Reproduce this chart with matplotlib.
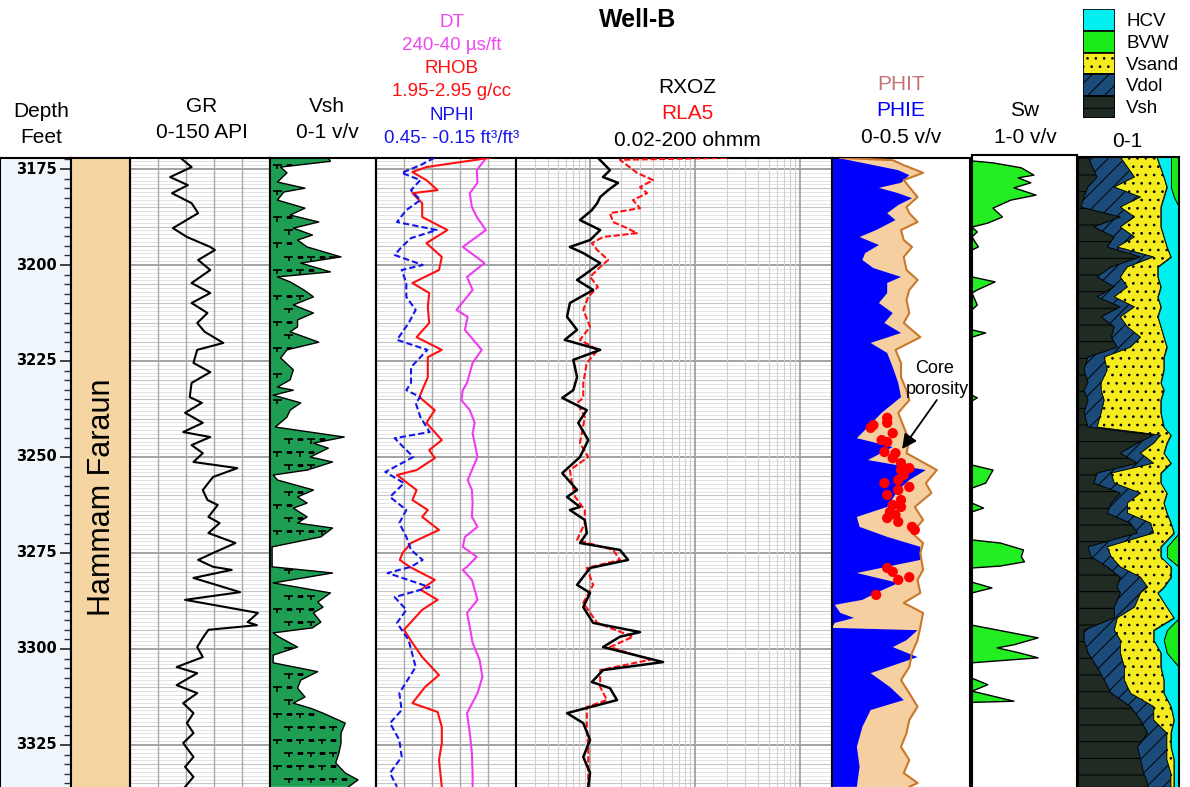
import numpy as np
import matplotlib
matplotlib.use("Agg")
import matplotlib.pyplot as plt
from matplotlib.path import Path
from matplotlib.patches import Rectangle

plt.rcParams['font.family'] = ['Liberation Sans', 'DejaVu Sans']
plt.rcParams['hatch.color'] = 'black'
plt.rcParams['hatch.linewidth'] = 0.7

# ------------------------------------------------------------------ data
depth_labels = [3175, 3200, 3225, 3250, 3275, 3300, 3325]
formation_name = "Hammam Faraun"

gr_depth = [3172.1, 3174.5, 3177.1, 3179.2, 3181.3, 3183.9, 3186.5, 3190.4, 3192.7, 3195.3,
            3196.1, 3198.7, 3201.3, 3204.7, 3207.3, 3209.9, 3212.5, 3215.1, 3217.4, 3220.3,
            3222.1, 3225.5, 3227.9, 3230.7, 3234.4, 3235.9, 3238.5, 3241.1, 3243.5, 3244.8,
            3246.9, 3249.0, 3251.3, 3252.9, 3255.2, 3258.6, 3261.2, 3262.5, 3265.6, 3267.2,
            3269.8, 3272.4, 3275.0, 3276.8, 3278.6, 3279.4, 3281.5, 3285.2, 3287.2, 3288.5,
            3290.6, 3293.0, 3293.8, 3295.0, 3297.1, 3299.5, 3302.1, 3304.7, 3306.3, 3309.4,
            3311.5, 3314.1, 3316.7, 3319.3, 3321.9, 3324.5, 3328.1, 3330.7, 3333.3, 3335.9]
gr_api = [54, 66, 43, 62, 45, 66, 73, 46, 61, 86,
          91, 73, 86, 66, 86, 66, 83, 72, 80, 100,
          72, 68, 86, 66, 64, 77, 59, 78, 57, 86,
          66, 78, 68, 115, 89, 78, 83, 94, 84, 96,
          84, 113, 89, 73, 89, 109, 68, 118, 59, 89,
          137, 126, 136, 84, 78, 72, 78, 50, 72, 50,
          72, 57, 68, 61, 68, 57, 68, 59, 68, 59]

vsh_depth = [3172.1, 3173.0, 3174.5, 3176.0, 3178.4, 3180.0, 3181.0, 3183.1, 3185.2, 3187.0,
             3188.8, 3190.4, 3192.2, 3193.5, 3195.3, 3197.9, 3199.5, 3201.8, 3203.1, 3204.4,
             3206.5, 3208.3, 3210.4, 3212.5, 3214.3, 3216.1, 3217.4, 3220.1, 3222.1, 3224.2,
             3227.3, 3229.9, 3231.8, 3232.6, 3233.9, 3235.9, 3237.8, 3239.6, 3242.2, 3244.8,
             3246.4, 3247.7, 3250.0, 3251.3, 3253.4, 3254.7, 3256.0, 3258.6, 3260.4, 3262.0,
             3263.3, 3265.6, 3267.2, 3268.5, 3270.8, 3273.4, 3278.6, 3280.2, 3282.8, 3285.4,
             3287.8, 3289.1, 3290.6, 3293.0, 3294.5, 3295.8, 3296.8, 3299.5, 3301.6, 3303.6,
             3305.9, 3308.1, 3310.2, 3312.5, 3314.1, 3315.4, 3316.7, 3319.3, 3321.9, 3324.5,
             3327.1, 3329.7, 3332.3, 3334.1, 3335.9]
vsh_frac = [0.55, 0.57, 0.10, 0.16, 0.07, 0.33, 0.13, 0.07, 0.33, 0.19,
            0.46, 0.22, 0.40, 0.26, 0.35, 0.67, 0.29, 0.57, 0.07, 0.19,
            0.32, 0.41, 0.22, 0.41, 0.26, 0.26, 0.19, 0.46, 0.16, 0.10,
            0.22, 0.19, 0.07, 0.22, 0.03, 0.29, 0.19, 0.16, 0.05, 0.70,
            0.41, 0.55, 0.38, 0.59, 0.35, 0.03, 0.07, 0.41, 0.26, 0.35,
            0.22, 0.35, 0.26, 0.59, 0.48, 0.02, 0.02, 0.59, 0.03, 0.57,
            0.45, 0.50, 0.41, 0.48, 0.40, 0.03, 0.08, 0.26, 0.03, 0.03,
            0.45, 0.29, 0.26, 0.33, 0.22, 0.38, 0.50, 0.71, 0.67, 0.67,
            0.65, 0.62, 0.71, 0.83, 0.74]

dt_depth = [3172.1, 3172.7, 3175.3, 3178.6, 3181.3, 3184.9, 3187.5, 3190.9, 3195.3, 3199.5,
            3203.1, 3206.5, 3211.7, 3213.5, 3216.9, 3222.1, 3225.5, 3230.7, 3232.6, 3235.2,
            3237.8, 3241.1, 3243.8, 3246.4, 3250.0, 3253.4, 3256.0, 3258.6, 3262.0, 3265.6,
            3268.2, 3270.8, 3273.4, 3276.0, 3278.6, 3279.4, 3282.0, 3287.2, 3290.6, 3294.3,
            3298.4, 3302.8, 3307.3, 3311.5, 3316.7, 3321.9, 3327.1, 3332.3, 3335.9]
dt_us = [82, 85, 96, 95, 106, 103, 96, 83, 116, 85,
         110, 102, 125, 109, 113, 89, 102, 110, 116, 118,
         106, 99, 102, 99, 95, 103, 109, 103, 102, 103,
         95, 113, 116, 96, 110, 116, 103, 95, 110, 106,
         102, 92, 88, 95, 110, 106, 103, 102, 102]

rhob_depth = [3172.1, 3174.5, 3175.8, 3177.9, 3180.5, 3181.3, 3183.9, 3187.5, 3190.9, 3194.3,
              3197.9, 3201.3, 3204.7, 3207.3, 3210.9, 3215.1, 3218.8, 3222.1, 3224.0, 3229.2,
              3232.6, 3234.4, 3237.8, 3241.1, 3245.6, 3248.2, 3250.3, 3253.4, 3254.7, 3258.6,
              3261.2, 3263.8, 3265.6, 3269.0, 3272.4, 3275.0, 3276.8, 3278.6, 3282.0, 3284.6,
              3287.2, 3289.8, 3295.0, 3298.4, 3302.1, 3306.8, 3309.9, 3314.1, 3316.4, 3320.3,
              3324.5, 3328.9, 3335.9]
rhob_gcc = [2.76, 2.31, 2.21, 2.31, 2.39, 2.21, 2.28, 2.28, 2.46, 2.31,
            2.42, 2.40, 2.21, 2.33, 2.32, 2.33, 2.24, 2.42, 2.32, 2.32,
            2.28, 2.26, 2.37, 2.31, 2.42, 2.33, 2.37, 2.24, 2.10, 2.24,
            2.21, 2.32, 2.28, 2.40, 2.20, 2.14, 2.12, 2.19, 2.37, 2.27,
            2.39, 2.28, 2.15, 2.21, 2.28, 2.40, 2.30, 2.21, 2.39, 2.42,
            2.42, 2.40, 2.42]

nphi_depth = [3172.1, 3174.0, 3176.0, 3177.9, 3180.5, 3183.1, 3185.7, 3188.8, 3190.9, 3193.0,
              3195.3, 3197.4, 3200.0, 3201.3, 3204.7, 3208.3, 3211.7, 3215.1, 3219.5, 3222.1,
              3226.6, 3230.7, 3232.6, 3234.4, 3235.9, 3239.6, 3243.5, 3245.1, 3248.2, 3250.0,
              3253.9, 3256.8, 3260.4, 3263.8, 3267.2, 3270.8, 3274.2, 3276.8, 3278.6, 3280.2,
              3283.9, 3286.5, 3289.8, 3293.2, 3297.7, 3304.7, 3311.5, 3315.9, 3319.3, 3323.7,
              3328.1, 3332.3, 3335.9]
nphi_v = [0.20, 0.26, 0.34, 0.26, 0.30, 0.26, 0.32, 0.36, 0.19, 0.30,
          0.34, 0.37, 0.25, 0.34, 0.32, 0.32, 0.28, 0.31, 0.36, 0.23,
          0.30, 0.30, 0.32, 0.26, 0.28, 0.26, 0.22, 0.37, 0.32, 0.29,
          0.41, 0.33, 0.39, 0.32, 0.35, 0.32, 0.30, 0.25, 0.30, 0.40,
          0.22, 0.37, 0.32, 0.36, 0.31, 0.28, 0.35, 0.34, 0.39, 0.35,
          0.34, 0.39, 0.36]

rxoz_depth = [3172.1, 3175.3, 3177.1, 3178.6, 3180.5, 3182.3, 3183.9, 3185.7, 3188.3, 3190.9,
              3193.5, 3195.3, 3196.9, 3199.5, 3202.1, 3203.9, 3206.5, 3209.9, 3213.5, 3216.9,
              3219.5, 3222.1, 3224.7, 3229.2, 3232.6, 3234.6, 3237.8, 3241.1, 3245.6, 3250.0,
              3254.2, 3258.6, 3260.4, 3263.0, 3263.8, 3266.4, 3269.8, 3272.4, 3274.2, 3276.8,
              3278.9, 3283.3, 3285.4, 3289.1, 3293.2, 3295.6, 3296.8, 3299.5, 3303.4, 3305.5,
              3308.6, 3310.2, 3313.3, 3316.7, 3319.3, 3323.7, 3328.1, 3332.3, 3335.9]
rxoz_ohmm = [1.20, 1.56, 1.34, 1.86, 1.50, 1.26, 1.18, 1.05, 0.81, 1.26,
             1.01, 0.65, 0.87, 1.26, 0.94, 0.76, 1.08, 0.65, 0.61, 0.76,
             0.58, 1.26, 0.70, 0.76, 0.70, 0.55, 0.94, 0.78, 0.97, 0.81,
             0.55, 0.76, 0.61, 0.81, 0.65, 0.90, 0.94, 0.81, 1.94, 2.32,
             1.01, 0.76, 1.01, 0.87, 1.08, 3.01, 1.94, 1.34, 4.98, 1.34,
             1.05, 1.56, 1.82, 0.61, 0.87, 1.01, 0.87, 1.01, 0.97]

rla5_depth = [3172.1, 3172.6, 3176.0, 3177.9, 3179.7, 3181.3, 3183.1, 3185.2, 3186.5, 3188.8,
              3190.4, 3191.7, 3192.7, 3194.3, 3196.1, 3198.7, 3200.5, 3203.1, 3205.7, 3208.3,
              3211.7, 3216.1, 3219.5, 3222.1, 3225.5, 3230.7, 3234.6, 3235.9, 3239.6, 3246.4,
              3250.0, 3253.4, 3256.8, 3260.4, 3263.8, 3267.2, 3271.6, 3274.2, 3276.8, 3278.9,
              3283.3, 3288.0, 3293.2, 3296.8, 3299.5, 3302.8, 3305.5, 3309.9, 3313.3, 3315.1,
              3320.3, 3325.5, 3330.7, 3335.9]
rla5_ohmm = [20.0, 1.94, 2.82, 4.00, 3.01, 3.51, 2.58, 3.01, 1.56, 1.67,
             2.27, 2.82, 1.34, 1.05, 1.18, 1.50, 1.26, 1.01, 1.20, 0.97,
             0.87, 1.01, 0.81, 1.20, 0.94, 0.87, 0.87, 0.76, 0.90, 0.81,
             0.97, 0.65, 0.68, 0.73, 0.90, 0.90, 0.76, 1.67, 1.94, 0.94,
             1.08, 0.87, 1.18, 2.58, 1.56, 3.75, 1.26, 1.26, 1.46, 0.94,
             0.94, 0.97, 0.97, 0.97]

phie_depth = [3172.1, 3173.4, 3175.3, 3176.6, 3178.6, 3179.9, 3181.3, 3182.6, 3184.4, 3186.5,
              3188.3, 3190.9, 3192.7, 3194.8, 3196.9, 3198.7, 3200.8, 3203.1, 3204.7, 3207.3,
              3209.9, 3212.5, 3215.1, 3217.7, 3220.3, 3222.9, 3226.6, 3230.7, 3234.4, 3238.5,
              3242.2, 3245.1, 3247.4, 3250.8, 3253.4, 3256.0, 3258.6, 3263.0, 3265.6, 3268.2,
              3270.8, 3273.4, 3276.8, 3280.2, 3282.8, 3285.4, 3287.2, 3288.5, 3290.6, 3291.9,
              3293.2, 3294.5, 3295.1, 3297.7, 3299.5, 3302.1, 3306.3, 3309.9, 3313.3, 3315.9,
              3320.3, 3325.5, 3330.7, 3335.9]
phie_v = [0.02, 0.11, 0.24, 0.28, 0.25, 0.17, 0.24, 0.29, 0.24, 0.20,
          0.23, 0.16, 0.10, 0.17, 0.12, 0.11, 0.15, 0.25, 0.20, 0.20,
          0.17, 0.22, 0.19, 0.25, 0.14, 0.20, 0.22, 0.24, 0.25, 0.18,
          0.13, 0.09, 0.22, 0.13, 0.34, 0.28, 0.24, 0.20, 0.09, 0.10,
          0.20, 0.32, 0.32, 0.09, 0.24, 0.16, 0.11, 0.01, 0.03, 0.08,
          0.01, 0.00, 0.31, 0.27, 0.22, 0.31, 0.14, 0.21, 0.26, 0.14,
          0.11, 0.09, 0.10, 0.09]

phit_depth = [3172.1, 3172.7, 3174.0, 3176.0, 3177.9, 3179.7, 3182.3, 3184.9, 3186.5, 3188.8,
              3190.9, 3193.5, 3195.3, 3197.9, 3201.3, 3203.9, 3206.5, 3209.1, 3212.5, 3215.1,
              3218.8, 3222.1, 3225.5, 3229.2, 3232.6, 3235.2, 3238.5, 3242.2, 3245.6, 3249.0,
              3253.4, 3256.8, 3259.4, 3263.0, 3266.4, 3269.8, 3272.4, 3275.0, 3279.4, 3282.0,
              3285.4, 3288.0, 3290.6, 3294.3, 3297.7, 3301.0, 3304.7, 3308.1, 3311.5, 3315.0,
              3318.5, 3321.9, 3325.5, 3328.9, 3332.3, 3334.9, 3335.9]
phit_v = [0.03, 0.22, 0.26, 0.33, 0.26, 0.28, 0.31, 0.27, 0.28, 0.31,
          0.25, 0.26, 0.29, 0.26, 0.27, 0.31, 0.28, 0.27, 0.28, 0.26,
          0.32, 0.23, 0.25, 0.25, 0.27, 0.28, 0.24, 0.26, 0.28, 0.27,
          0.38, 0.34, 0.36, 0.30, 0.33, 0.29, 0.33, 0.32, 0.33, 0.31,
          0.32, 0.26, 0.33, 0.32, 0.31, 0.29, 0.28, 0.25, 0.28, 0.31,
          0.28, 0.27, 0.25, 0.28, 0.26, 0.31, 0.28]

core_depth = [3239.8, 3241.1, 3242.4, 3241.7, 3243.8, 3245.6, 3246.1, 3248.7, 3249.0, 3250.3,
              3251.6, 3252.9, 3253.4, 3254.7, 3256.0, 3256.8, 3257.8, 3258.6, 3259.9, 3261.2,
              3262.5, 3263.0, 3264.3, 3265.1, 3265.9, 3266.9, 3268.2, 3269.0, 3278.9, 3279.9,
              3282.0, 3281.3, 3285.9]
core_phi = [0.20, 0.20, 0.14, 0.15, 0.22, 0.18, 0.20, 0.19, 0.23, 0.22,
            0.25, 0.28, 0.25, 0.26, 0.24, 0.19, 0.28, 0.24, 0.20, 0.25,
            0.22, 0.25, 0.21, 0.23, 0.20, 0.24, 0.29, 0.30, 0.20, 0.22,
            0.24, 0.28, 0.16]

sw_depth = [3171.4, 3172.9, 3173.4, 3174.7, 3176.6, 3177.3, 3178.6, 3179.9, 3181.8, 3183.1,
            3185.2, 3187.5, 3189.1, 3190.1, 3191.4, 3192.7, 3195.3, 3196.1, 3203.1, 3204.4,
            3206.5, 3207.3, 3210.4, 3211.7, 3216.9, 3217.7, 3218.8, 3233.9, 3234.6, 3235.4,
            3252.1, 3253.4, 3256.8, 3258.1, 3262.0, 3263.3, 3264.3, 3271.6, 3272.4, 3274.2,
            3276.0, 3277.3, 3278.4, 3278.9, 3282.6, 3284.1, 3285.4, 3293.8, 3295.1, 3297.1,
            3298.9, 3299.7, 3301.0, 3302.3, 3303.6, 3307.6, 3309.3, 3311.0, 3311.3, 3313.6,
            3313.9, 3335.9]
sw_v = [1.0, 1.0, 0.80, 0.53, 0.41, 0.56, 0.44, 0.60, 0.39, 0.63,
        0.80, 0.71, 0.85, 1.0, 0.95, 1.0, 0.94, 1.0, 1.0, 0.78,
        0.95, 1.0, 0.95, 1.0, 1.0, 0.87, 1.0, 1.0, 0.95, 1.0,
        1.0, 0.80, 0.87, 1.0, 1.0, 0.89, 1.0, 1.0, 0.73, 0.51,
        0.53, 0.50, 0.73, 1.0, 1.0, 0.81, 1.0, 1.0, 0.75, 0.37,
        0.60, 0.76, 0.55, 0.37, 1.0, 1.0, 0.85, 1.0, 0.95, 0.60,
        1.0, 1.0]

litho_depth = [3171.9, 3177.1, 3179.7, 3182.3, 3184.9, 3187.5, 3190.1, 3192.7, 3195.3, 3197.9,
               3200.5, 3203.1, 3205.7, 3208.3, 3210.9, 3213.5, 3216.1, 3218.8, 3221.4, 3224.0,
               3227.3, 3230.7, 3232.6, 3235.2, 3238.5, 3242.2, 3244.3, 3246.4, 3249.0, 3251.6,
               3254.2, 3256.8, 3259.4, 3262.0, 3264.6, 3267.2, 3269.8, 3273.4, 3276.0, 3278.6,
               3281.3, 3283.9, 3285.4, 3289.1, 3291.9, 3295.1, 3297.7, 3301.0, 3304.7, 3308.1,
               3311.5, 3315.0, 3318.5, 3321.9, 3325.5, 3328.8, 3332.3, 3334.9, 3336.0]
vol_sh = [.10, .19, .10, .06, .03, .42, .16, .36, .29, .62,
          .33, .19, .36, .19, .42, .23, .36, .33, .39, .10,
          .06, .10, .06, .10, .06, .10, .75, .59, .42, .59,
          .19, .16, .42, .33, .29, .52, .59, .10, .13, .29,
          .42, .39, .42, .36, .36, .06, .06, .10, .19, .26,
          .33, .52, .62, .69, .59, .62, .65, .69, .69]
vol_dol = [.32, .37, .26, .56, .39, .14, .26, .20, .10, .13,
           .16, .23, .13, .17, .14, .19, .13, .29, .13, .16,
           .23, .13, .17, .16, .17, .09, .07, .16, .20, .16,
           .14, .20, .20, .16, .20, .20, .16, .19, .20, .13,
           .20, .30, .20, .20, .03, .30, .36, .32, .27, .20,
           .19, .23, .13, .19, .29, .26, .27, .23, .23]
vol_sand = [.36, .29, .52, .23, .40, .26, .40, .29, .49, .17,
            .30, .37, .33, .43, .26, .37, .33, .23, .36, .59,
            .56, .59, .62, .56, .59, .66, .10, .13, .23, .17,
            .49, .46, .26, .36, .39, .20, .20, .53, .49, .50,
            .30, .16, .17, .32, .56, .39, .33, .40, .36, .39,
            .33, .17, .20, .04, .04, .07, .03, .03, .03]
vol_hcv = [.14, .07, .04, .10, .18, .18, .18, .15, .12, .08,
           .21, .21, .18, .21, .18, .21, .18, .15, .12, .15,
           .15, .18, .15, .18, .18, .15, .08, .12, .15, .08,
           .18, .18, .12, .15, .12, .08, .05, .06, .06, .08,
           .08, .15, .21, .12, .05, .13, .10, .06, .18, .15,
           .15, .08, .05, .08, .08, .05, .05, .05, .05]
vol_bvw = [.08, .08, .08, .05, 0, 0, 0, 0, 0, 0,
           0, 0, 0, 0, 0, 0, 0, 0, 0, 0,
           0, 0, 0, 0, 0, 0, 0, 0, 0, 0,
           0, 0, 0, 0, 0, 0, 0, .12, .12, 0,
           0, 0, 0, 0, 0, .12, .15, .12, 0, 0,
           0, 0, 0, 0, 0, 0, 0, 0, 0]

legend_names = ["HCV", "BVW", "Vsand", "Vdol", "Vsh"]

# ------------------------------------------------------------------ styles
C_VSH_TRACK = '#1e9e52'
C_SH, C_DOL, C_SAND, C_HCV, C_BVW = '#1f2b23', '#1b4b78', '#f5ec1f', '#00f0f0', '#1aeb1a'
H_SH, H_DOL, H_SAND = '-', '//', '..'
legend_style = {
    "HCV": (C_HCV, None), "BVW": (C_BVW, None), "Vsand": (C_SAND, H_SAND),
    "Vdol": (C_DOL, H_DOL), "Vsh": (C_SH, H_SH),
}

W, H = 1190, 787
fig = plt.figure(figsize=(W / 100, H / 100), dpi=100)

PX_PER_FT = 3.84
REF_DEPTH, REF_Y = 3175.0, 169.0


def depth_at(y):
    return REF_DEPTH + (y - REF_Y) / PX_PER_FT


def add_track(x0, x1, y0=158, y1=H):
    ax = fig.add_axes([x0 / W, 1 - y1 / H, (x1 - x0) / W, (y1 - y0) / H])
    ax.set_ylim(depth_at(y1), depth_at(y0))
    ax.tick_params(left=False, bottom=False, labelleft=False, labelbottom=False)
    for s in ax.spines.values():
        s.set_linewidth(1.5)
        s.set_color('black')
    ax.spines['bottom'].set_visible(False)
    return ax


def depth_grid(ax):
    for d in range(3172, 3337):
        if d % 25 == 0:
            c, lw = '#939393', 1.2
        elif d % 5 == 0:
            c, lw = '#c6c6c6', 0.8
        else:
            c, lw = '#dedede', 0.6
        ax.axhline(d, color=c, lw=lw, zorder=0)


def header(x, y, s, **kw):
    kw.setdefault('fontsize', 15)
    fig.text(x / W, 1 - y / H, s, ha='center', va='baseline', **kw)


# ------------------------------------------------------------------ depth track
axd = add_track(0, 71)
axd.set_facecolor('#eef5fb')
axd.set_xlim(0, 1)
axd.set_yticks(depth_labels)
axd.set_yticks(np.arange(3172.5, 3337, 2.5), minor=True)
axd.tick_params(axis='y', which='both', direction='in', right=True, left=False,
                labelright=False, labelleft=False, color='#333333')
axd.tick_params(axis='y', which='major', length=8, width=1.3)
axd.tick_params(axis='y', which='minor', length=5, width=1.0)
for d in depth_labels:
    axd.text(57 / 71, d, str(d), transform=axd.get_yaxis_transform(), ha='right',
             va='center', fontsize=10.5, fontweight='bold', family='DejaVu Sans')

# ------------------------------------------------------------------ formation
axf = add_track(71, 130)
axf.set_facecolor('#f5d6a2')
axf.set_xlim(0, 1)
axf.text(0.52, depth_at(497), formation_name, rotation=90, ha='center', va='center',
         fontsize=22, transform=axf.get_yaxis_transform())

# ------------------------------------------------------------------ GR
axg = add_track(130, 270)
axg.set_xlim(0, 150)
depth_grid(axg)
for v in np.arange(0, 151, 30):
    axg.axvline(v, color='#a9a9a9', lw=1.0, zorder=0)
axg.plot(gr_api, gr_depth, color='black', lw=1.5, zorder=3)

# ------------------------------------------------------------------ Vsh
axv = add_track(270, 376)
axv.set_xlim(0, 1)
vfill = axv.fill_betweenx(vsh_depth, 0, vsh_frac, facecolor=C_VSH_TRACK, edgecolor='none', zorder=1)
axv.plot(vsh_frac, vsh_depth, color='black', lw=1.0, zorder=3)
tee = Path([(-1, 0), (1, 0), (0, 0), (0, -1)],
           [Path.MOVETO, Path.LINETO, Path.MOVETO, Path.LINETO])
tx, ty, dx, dy = [], [], [], []
for i, d in enumerate(np.arange(3174.0, 3336.5, 3.4)):
    edge = np.interp(d, vsh_depth, vsh_frac)
    off = 0.0 if i % 2 == 0 else 0.105
    for j, c in enumerate(np.arange(0.07 + off, 1.0, 0.105)):
        if c + 0.04 < edge:
            if j % 2 == 0:
                tx.append(c); ty.append(d)
            else:
                dx.append(c); dy.append(d)
sc1 = axv.scatter(tx, ty, marker=tee, s=36, facecolors='none', edgecolors='black',
                  linewidths=1.2, zorder=2)
sc2 = axv.scatter(dx, dy, marker='_', s=22, color='black', linewidths=1.0, zorder=2)
clip = vfill.get_paths()[0]
sc1.set_clip_path(clip, axv.transData)
sc2.set_clip_path(clip, axv.transData)

# ------------------------------------------------------------------ DT / RHOB / NPHI
axp = add_track(376, 516)
axp.set_xlim(240, 40)
depth_grid(axp)
for v in np.arange(240, 39, -40):
    axp.axvline(v, color='#a9a9a9', lw=1.0, zorder=0)
axp.plot(dt_us, dt_depth, color='#f03cf0', lw=1.5, zorder=3)
axr = axp.twiny()
axr.set_xlim(1.95, 2.95)
axr.plot(rhob_gcc, rhob_depth, color='#ff1010', lw=1.5, zorder=3)
axn = axp.twiny()
axn.set_xlim(0.45, -0.15)
axn.plot(nphi_v, nphi_depth, color='#1515ee', lw=1.5, ls=(0, (3, 1.5)), zorder=3)
for a in (axr, axn):
    a.tick_params(top=False, labeltop=False)
    for s in a.spines.values():
        s.set_visible(False)

# ------------------------------------------------------------------ resistivity
axres = add_track(516, 832)
axres.set_xscale('log')
axres.set_xlim(0.2, 200)
axres.tick_params(which='both', bottom=False, labelbottom=False)
depth_grid(axres)
for e in (-1, 0, 1, 2):
    for k in range(1, 10):
        v = k * 10.0 ** e
        if 0.2 < v < 200:
            if k == 1:
                axres.axvline(v, color='#9a9a9a', lw=1.2, zorder=0)
            else:
                axres.axvline(v, color='#cfcfcf', lw=0.8, zorder=0)
axres.plot(rla5_ohmm, rla5_depth, color='#ff1010', lw=1.5, ls=(0, (3, 1.2)), zorder=3)
axres.plot(rxoz_ohmm, rxoz_depth, color='black', lw=1.8, zorder=4)

# ------------------------------------------------------------------ porosity
axphi = add_track(832, 970)
axphi.set_xlim(0, 0.5)
axphi.fill_betweenx(phit_depth, 0, phit_v, facecolor='#f5cfa0', edgecolor='none', zorder=1)
axphi.fill_betweenx(phie_depth, 0, phie_v, facecolor='#0000ff', edgecolor='none', zorder=2)
axphi.plot(phit_v, phit_depth, color='#c8782a', lw=1.5, zorder=3)
axphi.scatter(core_phi, core_depth, s=55, color='#ff0000', edgecolors='none', zorder=5)
axphi.annotate('', xy=(0.254, depth_at(449)), xytext=(0.38, depth_at(400)),
               arrowprops=dict(arrowstyle='-|>', color='black', lw=1.3,
                               mutation_scale=22, shrinkA=0, shrinkB=0),
               zorder=6, annotation_clip=False)
header(935, 373, "Core", fontsize=13)
header(937, 394, "porosity", fontsize=13)

# ------------------------------------------------------------------ Sw
axs = add_track(972, 1077, y0=155)
axs.set_xlim(1, 0)
axs.fill_betweenx(sw_depth, 1, sw_v, facecolor='#22ee22', edgecolor='none', zorder=1)
axs.plot(sw_v, sw_depth, color='black', lw=1.0, zorder=2)

# ------------------------------------------------------------------ lithology
axl = add_track(1078, 1179, y0=157)
axl.set_xlim(0, 1)
stack = [(vol_sh, C_SH, H_SH), (vol_dol, C_DOL, H_DOL), (vol_sand, C_SAND, H_SAND),
         (vol_hcv, C_HCV, None), (vol_bvw, C_BVW, None)]
left = np.zeros(len(litho_depth))
for vals, col, hatch in stack:
    right = left + np.asarray(vals)
    axl.fill_betweenx(litho_depth, left, right, facecolor=col, edgecolor='black',
                      linewidth=0.6, hatch=hatch, zorder=1)
    left = right

# ------------------------------------------------------------------ legend
axleg = fig.add_axes([1083 / W, 1 - 118 / H, 32 / W, 109 / H])
axleg.set_xlim(0, 1)
axleg.set_ylim(len(legend_names), 0)
axleg.axis('off')
for i, name in enumerate(legend_names):
    col, hatch = legend_style[name]
    axleg.add_patch(Rectangle((0, i), 1, 1, facecolor=col, edgecolor='black',
                              linewidth=1.2, hatch=hatch))
    fig.text(1126 / W, 1 - (i * 21.8 + 26) / H, name, ha='left', va='baseline', fontsize=13.5)

# ------------------------------------------------------------------ headers
header(638, 27, "Well-B", fontsize=18, fontweight='bold')
header(41, 117, "Depth")
header(41, 143, "Feet")
header(202, 112, "GR")
header(202, 138, "0-150 API")
header(327, 112, "Vsh")
header(327, 138, "0-1 v/v")
header(452, 27, "DT", fontsize=13.5, color='#f048f0')
header(452, 50, "240-40 µs/ft", fontsize=13.5, color='#f048f0')
header(452, 73, "RHOB", fontsize=13.5, color='#ff1010')
header(452, 96, "1.95-2.95 g/cc", fontsize=13.5, color='#ff1010')
header(452, 120, "NPHI", fontsize=13.5, color='#1515ee')
header(452, 143, "0.45- -0.15 ft³/ft³", fontsize=13.5, color='#1515ee')
header(687, 93, "RXOZ")
header(687, 119, "RLA5", color='#ff1010')
header(687, 146, "0.02-200 ohmm")
header(901, 90, "PHIT", color='#c47272')
header(901, 116, "PHIE", color='#0000ff')
header(901, 143, "0-0.5 v/v")
header(1025, 116, "Sw")
header(1025, 143, "1-0 v/v")
header(1127, 147, "0-1")

fig.savefig("out.png", dpi=100)
